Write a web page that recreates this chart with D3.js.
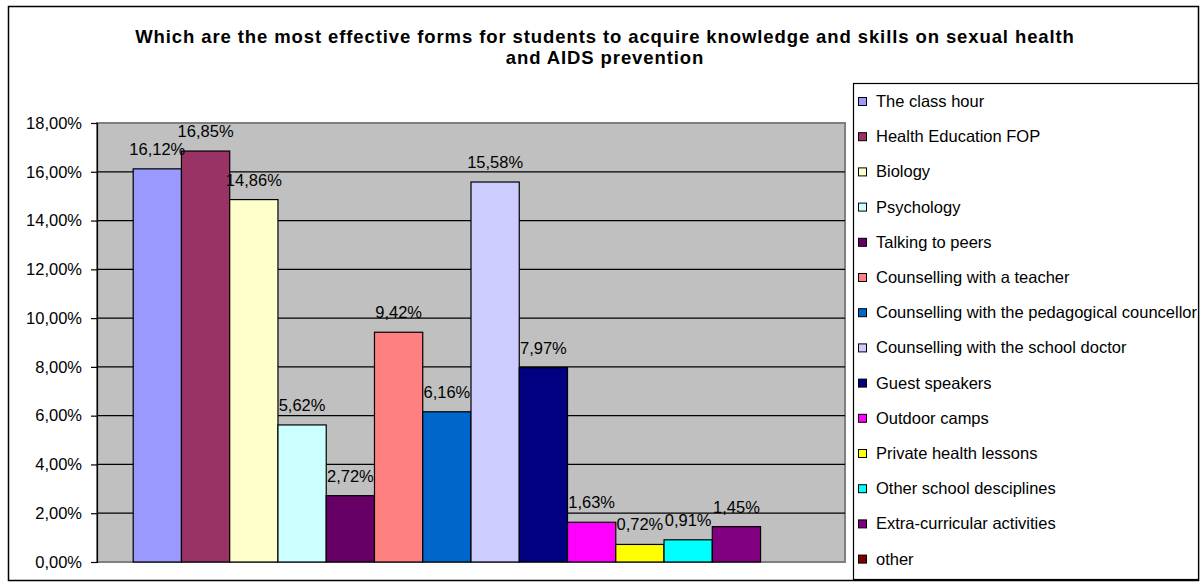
<!DOCTYPE html>
<html>
<head>
<meta charset="utf-8">
<script src="https://cdn.jsdelivr.net/npm/d3@7/dist/d3.min.js"></script>
<style>
  html, body { margin: 0; padding: 0; background: #fff; }
  svg { display: block; font-family: "Liberation Sans", Arial, sans-serif; }
</style>
</head>
<body>
<svg id="chart" width="1202" height="587"></svg>
<script>
// Survey answers: share of students choosing each form
const categories = [
  "The class hour",
  "Health Education FOP",
  "Biology",
  "Psychology",
  "Talking to peers",
  "Counselling with a teacher",
  "Counselling with the pedagogical councellor",
  "Counselling with the school doctor",
  "Guest speakers",
  "Outdoor camps",
  "Private health lessons",
  "Other school desciplines",
  "Extra-curricular activities",
  "other"
];
const values = [16.12, 16.85, 14.86, 5.62, 2.72, 9.42, 6.16, 15.58, 7.97, 1.63, 0.72, 0.91, 1.45, 0];
const colors = ["#9999FF", "#993366", "#FFFFCC", "#CCFFFF", "#660066", "#FF8080", "#0066CC",
                "#CCCCFF", "#000080", "#FF00FF", "#FFFF00", "#00FFFF", "#800080", "#800000"];
const yTicks = [0, 2, 4, 6, 8, 10, 12, 14, 16, 18];
const titleLines = [
  "Which are the most effective forms for students to acquire knowledge and skills on sexual health",
  "and AIDS prevention"
];

const svg = d3.select("#chart");
const fmt = v => v.toFixed(2).replace(".", ",") + "%";

// chart frame
svg.append("rect")
  .attr("x", 8.5).attr("y", 6.5).attr("width", 1190).attr("height", 574)
  .attr("fill", "#fff").attr("stroke", "#000").attr("stroke-width", 1.5);

// title
svg.append("text")
  .attr("text-anchor", "middle")
  .attr("font-weight", "bold")
  .attr("font-size", 18.5)
  .attr("letter-spacing", 0.9)
  .selectAll("tspan").data(titleLines).join("tspan")
  .attr("x", 605).attr("y", (d, i) => 43 + i * 21)
  .text(d => d);

// plot area
const plot = { left: 97, right: 845, top: 123, bottom: 562 };
const x = d3.scaleBand().domain(categories).range([plot.left, plot.right])
  .paddingInner(0).paddingOuter(0.75);
const y = d3.scaleLinear().domain([0, 18]).range([plot.bottom, plot.top]);

svg.append("rect")
  .attr("x", plot.left).attr("y", plot.top)
  .attr("width", plot.right - plot.left).attr("height", plot.bottom - plot.top)
  .attr("fill", "#C0C0C0").attr("stroke", "#808080").attr("stroke-width", 2);

// horizontal gridlines
svg.append("g").selectAll("line").data(yTicks.filter(t => t > 0 && t < 18)).join("line")
  .attr("x1", plot.left).attr("x2", plot.right)
  .attr("y1", d => y(d)).attr("y2", d => y(d))
  .attr("stroke", "#000").attr("stroke-width", 1.2);

// y axis
const yAxis = svg.append("g")
  .attr("transform", `translate(${plot.left},0)`)
  .call(d3.axisLeft(y).tickValues(yTicks).tickSize(6).tickPadding(9).tickFormat(fmt));
yAxis.selectAll("text").attr("font-size", 16.5).attr("fill", "#000")
  .attr("font-family", "'Liberation Sans', Arial, sans-serif");
yAxis.selectAll("line, path").attr("stroke", "#000").attr("stroke-width", 1.2);

// bars
svg.append("g").selectAll("rect").data(values).join("rect")
  .attr("x", (d, i) => x(categories[i]))
  .attr("y", d => y(d))
  .attr("width", x.bandwidth())
  .attr("height", d => y(0) - y(d))
  .attr("fill", (d, i) => colors[i])
  .attr("stroke", "#000").attr("stroke-width", 1.2);

// value labels
svg.append("g").selectAll("text").data(values.map((v, i) => ({ v, i })).filter(d => d.v > 0)).join("text")
  .attr("x", d => x(categories[d.i]) + x.bandwidth() / 2)
  .attr("y", d => y(d.v) - 14)
  .attr("text-anchor", "middle")
  .attr("font-size", 16.5)
  .text(d => fmt(d.v));

// legend
const legend = svg.append("g");
legend.append("rect")
  .attr("x", 853.5).attr("y", 83.5).attr("width", 345).attr("height", 496)
  .attr("fill", "#fff").attr("stroke", "#000").attr("stroke-width", 1.2);
const rowY = i => 107 + i * 35.2;
const items = legend.selectAll("g.item").data(categories).join("g").attr("class", "item");
items.append("rect")
  .attr("x", 858.5).attr("y", (d, i) => rowY(i) - 9.5)
  .attr("width", 8).attr("height", 8)
  .attr("fill", (d, i) => colors[i]).attr("stroke", "#000").attr("stroke-width", 1);
items.append("text")
  .attr("x", 876).attr("y", (d, i) => rowY(i))
  .attr("font-size", 16.5)
  .text(d => d);
</script>
</body>
</html>
